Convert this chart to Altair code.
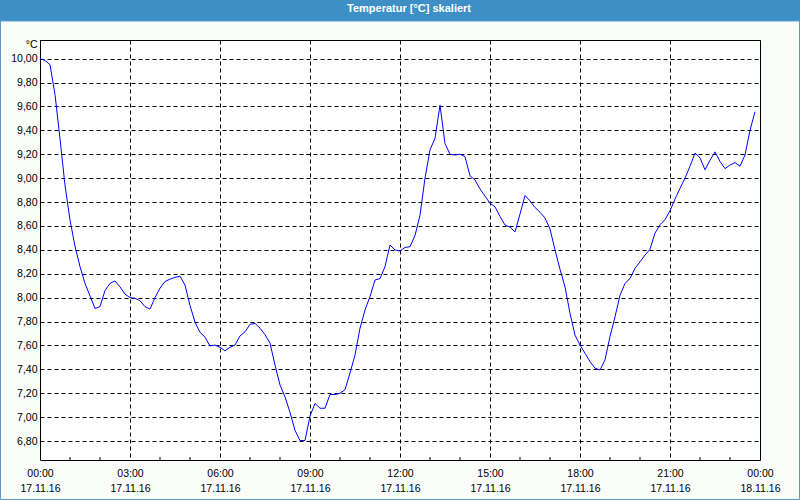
import altair as alt
import pandas as pd

# ---- data ----
title_text = "Temperatur [°C] skaliert"
unit_label = "°C"
start_time = "2016-11-17 00:00"
sample_step = "10min"
temps = [
    10.000, 9.985, 9.950, 9.700, 9.330, 8.940, 8.650, 8.430, 8.260, 8.120,
    8.015, 7.910, 7.925, 8.060, 8.120, 8.140, 8.090, 8.030, 8.000, 7.995,
    7.975, 7.925, 7.905, 8.000, 8.080, 8.135, 8.155, 8.170, 8.180, 8.105,
    7.935, 7.795, 7.710, 7.670, 7.596, 7.604, 7.585, 7.556, 7.585, 7.604,
    7.680, 7.715, 7.777, 7.785, 7.745, 7.690, 7.620, 7.437, 7.270, 7.170,
    7.040, 6.890, 6.805, 6.805, 7.010, 7.115, 7.075, 7.075, 7.190, 7.190,
    7.200, 7.230, 7.370, 7.520, 7.745, 7.897, 8.010, 8.148, 8.160, 8.260,
    8.440, 8.400, 8.390, 8.420, 8.427, 8.520, 8.690, 9.000, 9.236, 9.334,
    9.610, 9.290, 9.200, 9.194, 9.200, 9.180, 9.020, 8.985, 8.910, 8.850,
    8.790, 8.760, 8.680, 8.608, 8.590, 8.550, 8.700, 8.855, 8.810, 8.755,
    8.715, 8.667, 8.575, 8.400, 8.238, 8.090, 7.870, 7.687, 7.604, 7.535,
    7.465, 7.410, 7.395, 7.480, 7.675, 7.840, 8.020, 8.120, 8.160, 8.246,
    8.300, 8.357, 8.405, 8.540, 8.610, 8.653, 8.727, 8.825, 8.915, 9.000,
    9.100, 9.210, 9.170, 9.070, 9.150, 9.220, 9.140, 9.080, 9.110, 9.130,
    9.100, 9.194, 9.400, 9.556,
]
y_ticks = [6.8, 7.0, 7.2, 7.4, 7.6, 7.8, 8.0, 8.2, 8.4, 8.6, 8.8, 9.0, 9.2, 9.4, 9.6, 9.8, 10.0]
y_domain = [6.642, 10.156]
label_hours = [0, 3, 6, 9, 12, 15, 18, 21, 24]
minor_hours = [1, 2, 4, 5, 7, 8, 10, 11, 13, 14, 16, 17, 19, 20, 22, 23]

times = pd.date_range(start_time, periods=len(temps), freq=sample_step).strftime("%Y-%m-%dT%H:%M:%SZ")
df = pd.DataFrame({"time": list(times), "temp": temps})


def dt(h):
    return alt.DateTime(year=2016, month=11, date=17 + h // 24, hours=h % 24, utc=True)


minor_df = pd.DataFrame({"time": [f"2016-11-17T{h:02d}:00:00Z" for h in minor_hours]})

FONT = "Liberation Sans"
TITLE_BLUE = "#3D8FC6"
BORDER_BLUE = "#5C9BD0"

x_scale = alt.Scale(type="utc", domain=[dt(0), dt(24)])
y_scale = alt.Scale(domain=y_domain, nice=False, zero=False)

line = alt.Chart(df).mark_line(color="#0000FF", strokeWidth=1).encode(
    x=alt.X(
        "time:T",
        scale=x_scale,
        axis=alt.Axis(
            values=[dt(h) for h in label_hours],
            title=None,
            domain=False,
            ticks=False,
            labelPadding=8,
            labelBaseline="top",
            labelLineHeight=15,
            labelFont=FONT,
            labelFontSize=10.5,
            labelColor="black",
            labelOverlap=False,
            labelFlush=False,
            labelBound=False,
            labelExpr="[utcFormat(datum.value, '%H:%M'), utcFormat(datum.value, '%d.%m.%y')]",
            grid=True,
            gridColor="black",
            gridDash=[4, 3],
            gridWidth=1,
        ),
    ),
    y=alt.Y(
        "temp:Q",
        scale=y_scale,
        axis=alt.Axis(
            values=y_ticks,
            title=unit_label,
            titleAngle=0,
            titleAlign="right",
            titleBaseline="middle",
            titleX=-3,
            titleY=4,
            titleFont=FONT,
            titleFontSize=10.5,
            titleFontWeight="normal",
            titleColor="black",
            domain=False,
            ticks=False,
            labelPadding=3,
            labelFont=FONT,
            labelFontSize=10.5,
            labelColor="black",
            labelOverlap=False,
            labelExpr="replace(format(datum.value, '.2f'), '.', ',')",
            grid=True,
            gridColor="black",
            gridDash=[4, 3],
            gridWidth=1,
        ),
    ),
)

minor_ticks = alt.Chart(minor_df).mark_rule(color="black", strokeWidth=1).encode(
    x=alt.X("time:T", scale=x_scale),
    y=alt.value(417),
    y2=alt.value(420),
)

deco = pd.DataFrame({"t": [title_text]})
title_bar = alt.Chart(deco).mark_rect(color=TITLE_BLUE).encode(
    x=alt.value(-40), x2=alt.value(760), y=alt.value(-40), y2=alt.value(-19)
)
border = alt.Chart(deco).mark_rect(
    stroke=BORDER_BLUE, strokeWidth=1, fillOpacity=0
).encode(
    x=alt.value(-39.5), x2=alt.value(759.5), y=alt.value(-19), y2=alt.value(459.5)
)
title = alt.Chart(deco).mark_text(
    color="white", font=FONT, fontSize=11, fontWeight="bold", align="center", baseline="middle"
).encode(text="t:N", x=alt.value(369), y=alt.value(-31))

chart = (
    alt.layer(title_bar, border, title, minor_ticks, line)
    .properties(
        width=720,
        height=420,
        autosize=alt.AutoSizeParams(type="none"),
        padding={"left": 40, "top": 40, "right": 40, "bottom": 40},
        background="#FAFCFA",
    )
    .configure_view(stroke="black", strokeWidth=1, fill="white")
)

chart.save("out.html", embed_options={"renderer": "svg", "actions": False})
